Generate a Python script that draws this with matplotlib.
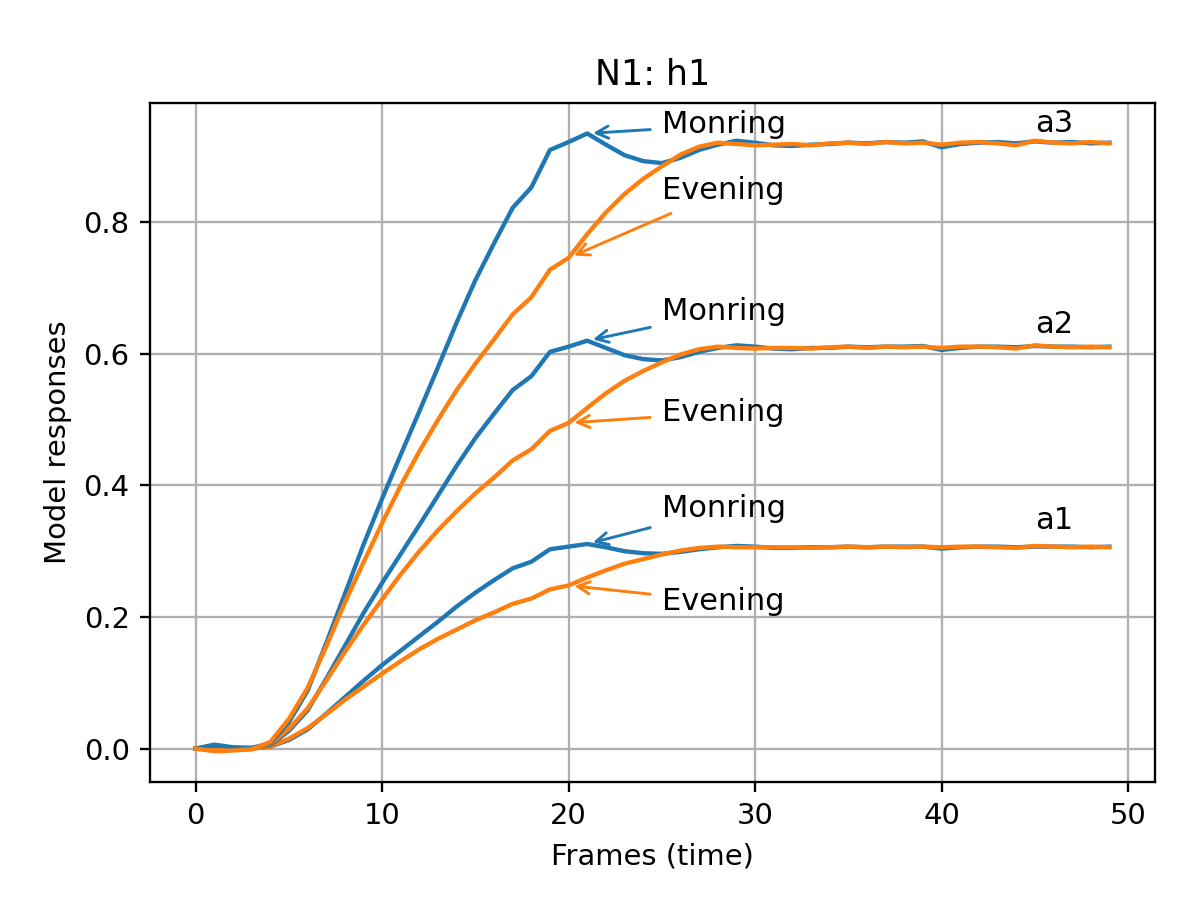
"""
Model responses over time for h1 at three input levels (a1, a2, a3),
morning vs evening runs.
"""

import matplotlib
matplotlib.use("Agg")
import matplotlib.pyplot as plt

# original looked like a 72 dpi notebook figure scaled up ~2.9x
DPI = 208.8

frames = list(range(50))

morning_a3 = [
    0.000, 0.006, 0.002, 0.001, 0.008, 0.040, 0.088, 0.160, 0.235, 0.310,
    0.380, 0.447, 0.513, 0.580, 0.648, 0.712, 0.768, 0.822, 0.853, 0.910,
    0.922, 0.935, 0.918, 0.902, 0.893, 0.890, 0.898, 0.910, 0.918, 0.924,
    0.921, 0.917, 0.916, 0.918, 0.919, 0.921, 0.920, 0.922, 0.921, 0.923,
    0.914, 0.919, 0.921, 0.922, 0.920, 0.923, 0.921, 0.922, 0.920, 0.921,
]
evening_a3 = [
    0.000, -0.004, -0.003, -0.001, 0.010, 0.045, 0.092, 0.155, 0.222, 0.283,
    0.343, 0.400, 0.452, 0.500, 0.545, 0.585, 0.622, 0.660, 0.686, 0.728,
    0.746, 0.782, 0.815, 0.843, 0.866, 0.885, 0.903, 0.915, 0.921, 0.919,
    0.917, 0.918, 0.919, 0.917, 0.920, 0.921, 0.919, 0.922, 0.920, 0.921,
    0.918, 0.921, 0.922, 0.920, 0.917, 0.924, 0.921, 0.920, 0.922, 0.920,
]
morning_a2 = [
    0.000, 0.004, 0.001, 0.001, 0.005, 0.027, 0.058, 0.106, 0.156, 0.206,
    0.252, 0.296, 0.340, 0.385, 0.430, 0.472, 0.509, 0.545, 0.566, 0.603,
    0.611, 0.620, 0.609, 0.598, 0.592, 0.590, 0.595, 0.603, 0.609, 0.613,
    0.611, 0.608, 0.607, 0.609, 0.609, 0.611, 0.610, 0.611, 0.611, 0.612,
    0.606, 0.609, 0.611, 0.611, 0.610, 0.612, 0.611, 0.611, 0.610, 0.611,
]
evening_a2 = [
    0.000, -0.003, -0.002, -0.001, 0.007, 0.030, 0.061, 0.103, 0.147, 0.188,
    0.227, 0.265, 0.300, 0.332, 0.361, 0.388, 0.412, 0.438, 0.455, 0.483,
    0.495, 0.518, 0.540, 0.559, 0.574, 0.587, 0.599, 0.607, 0.611, 0.609,
    0.608, 0.609, 0.609, 0.608, 0.610, 0.611, 0.609, 0.611, 0.610, 0.611,
    0.609, 0.611, 0.611, 0.610, 0.608, 0.613, 0.611, 0.610, 0.611, 0.610,
]
morning_a1 = [
    0.000, 0.002, 0.001, 0.000, 0.003, 0.013, 0.029, 0.053, 0.078, 0.103,
    0.127, 0.149, 0.171, 0.193, 0.216, 0.237, 0.256, 0.274, 0.284, 0.303,
    0.307, 0.311, 0.306, 0.300, 0.297, 0.296, 0.299, 0.303, 0.306, 0.308,
    0.307, 0.305, 0.305, 0.306, 0.306, 0.307, 0.306, 0.307, 0.307, 0.307,
    0.304, 0.306, 0.307, 0.307, 0.306, 0.307, 0.307, 0.307, 0.306, 0.307,
]
evening_a1 = [
    0.000, -0.001, -0.001, 0.000, 0.003, 0.015, 0.031, 0.052, 0.074, 0.094,
    0.114, 0.133, 0.151, 0.167, 0.181, 0.195, 0.207, 0.220, 0.228, 0.242,
    0.248, 0.260, 0.271, 0.281, 0.288, 0.295, 0.301, 0.305, 0.307, 0.306,
    0.306, 0.306, 0.306, 0.305, 0.306, 0.307, 0.306, 0.307, 0.306, 0.307,
    0.306, 0.307, 0.307, 0.306, 0.305, 0.308, 0.307, 0.306, 0.307, 0.306,
]

level_names = ["a1", "a2", "a3"]
level_label_y = [0.334, 0.632, 0.937]

# (text y for "Monring", text y for "Evening") per level
morning_text_y = [0.352, 0.651, 0.935]
evening_text_y = [0.210, 0.498, 0.835]
morning_tip_frame = 21
evening_tip_frame = 20
text_frame = 25
label_frame = 45
note_size = 10.5

fig = plt.figure(figsize=(1200 / DPI, 900 / DPI), dpi=DPI)
ax = fig.add_subplot(111)
fig.subplots_adjust(left=0.125, right=0.9625, bottom=0.131, top=0.886)

pairs = [
    (morning_a1, evening_a1),
    (morning_a2, evening_a2),
    (morning_a3, evening_a3),
]

for i, (morn, eve) in enumerate(pairs):
    ax.plot(frames, morn, color="C0")
    ax.plot(frames, eve, color="C1")

    ax.annotate(
        "Monring",
        xy=(morning_tip_frame, morn[morning_tip_frame]),
        xytext=(text_frame, morning_text_y[i]),
        fontsize=note_size,
        arrowprops=dict(arrowstyle="->", color="C0"),
    )
    ax.annotate(
        "Evening",
        xy=(evening_tip_frame, eve[evening_tip_frame]),
        xytext=(text_frame, evening_text_y[i]),
        fontsize=note_size,
        arrowprops=dict(arrowstyle="->", color="C1"),
    )
    ax.text(label_frame, level_label_y[i], level_names[i], fontsize=note_size)

ax.set_title("N1: h1")
ax.set_xlabel("Frames (time)")
ax.set_ylabel("Model responses")
ax.grid(True)

fig.savefig("out.png", dpi=DPI)
plt.close(fig)
